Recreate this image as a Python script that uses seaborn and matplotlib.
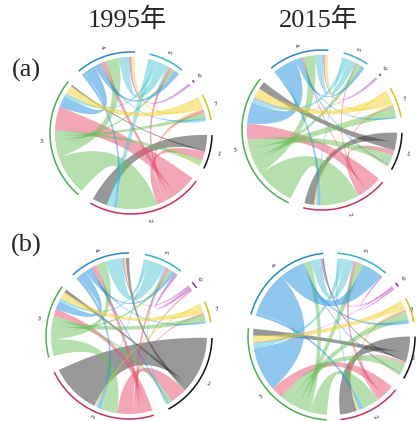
import matplotlib
matplotlib.use("Agg")
import matplotlib.pyplot as plt
import numpy as np
import seaborn as sns
from matplotlib.patches import PathPatch
from matplotlib.path import Path

# sector names, clockwise from 3 o'clock
sectors = ["1", "2", "3", "4", "5", "6", "7"]
link_colors = ["#333333", "#E8506E", "#6CC05A", "#2090E0", "#4CC6D6", "#B040C0", "#F2D22A"]
track_colors = ["#111111", "#C8305A", "#4CAF50", "#2B86C5", "#35B5C5", "#8E2C9A", "#D8C21C"]

# flow matrices, rows = from, columns = to
flows_a_1995 = [
    [0, 9, 1, 0, 0, 0, 0],
    [5, 0, 14, 3, 2, 0, 2],
    [3, 24, 0, 8, 2, 0, 3],
    [0, 2, 7, 0, 3, 0, 1],
    [0, 4, 2, 6, 0, 0, 1],
    [0, 0, 0, 1.5, 0, 0, 0],
    [1, 0, 5, 2, 0, 0, 0],
]
flows_a_2015 = [
    [0, 6, 5, 0, 0, 0, 0],
    [3, 0, 10, 1, 1, 0, 1],
    [6, 24, 0, 7, 3, 0, 6],
    [1, 2, 13, 0, 2, 0, 1],
    [0, 1, 3, 5, 0, 0, 0],
    [0, 0, 0.5, 1, 0, 0, 0],
    [1, 1, 6, 2, 0, 0, 0],
]
flows_b_1995 = [
    [0, 30, 2, 2, 0, 0, 0],
    [10, 0, 4, 3, 2, 1, 1],
    [2, 10, 0, 6, 2, 0, 4],
    [1, 2, 5, 0, 2, 0, 1],
    [1, 1, 2, 10, 0, 0, 0],
    [0, 0, 0, 1, 2, 0, 0],
    [0, 1, 4, 1, 0, 0, 0],
]
flows_b_2015 = [
    [0, 10, 4, 1, 0, 0, 0],
    [1, 0, 7, 0, 2, 0, 1],
    [6, 10, 0, 4, 4, 0, 5],
    [1, 2, 26, 0, 12, 0, 2],
    [0, 1, 3, 6, 0, 0, 0],
    [0, 0, 0.5, 1, 1, 0, 0],
    [1, 1, 4, 0, 0, 0, 0],
]

years = ["1995年", "2015年"]
panel_tags = ["(a)", "(b)"]

W, H = 416, 421
# (matrix, centre x px, centre y px, radius px, gap deg, start deg)
panels = [
    (flows_a_1995, 131, 133, 81, 10.4, -1.5),
    (flows_a_2015, 322, 130, 80, 11.0, -2.0),
    (flows_b_1995, 129, 336, 83, 10.9, -1.4),
    (flows_b_2015, 331.5, 336.5, 83.5, 9.6, 0.0),
]

R_LINK = 0.94
R_TRACK = 1.0
R_LABEL = 1.11
LIM = 1.25


def chord_layout(m, gap, start):
    m = np.asarray(m, dtype=float)
    n = len(m)
    totals = m.sum(axis=1) + m.sum(axis=0)
    avail = 360.0 - gap * n
    unit = avail / totals.sum()
    spans = totals * unit
    starts = start - np.concatenate([[0.0], np.cumsum(spans + gap)[:-1]])
    ends = {}
    for i in range(n):
        # outgoing ends first, then incoming; each ordered 2..7, 1
        items = []
        for kind in (0, 1):
            for j in sorted(range(n), key=lambda k: (k - 1) % n):
                v = m[i, j] if kind == 0 else m[j, i]
                if j != i and v > 0:
                    items.append((kind, j, v))
        pos = starts[i]
        for kind, j, v in items:
            w = v * unit
            ends[(i, j, kind)] = (pos, pos - w)
            pos -= w
    return m, starts, spans, ends


def arc_pts(a0, a1, r, k=30):
    t = np.radians(np.linspace(a0, a1, k))
    return np.c_[r * np.cos(t), r * np.sin(t)]


def ribbon(src, dst, r):
    s = arc_pts(src[0], src[1], r)
    d = arc_pts(dst[0], dst[1], r)
    verts = list(s) + [(0, 0), d[0]] + list(d[1:]) + [(0, 0), s[0], s[0]]
    codes = ([Path.MOVETO] + [Path.LINETO] * (len(s) - 1) + [Path.CURVE3, Path.CURVE3]
             + [Path.LINETO] * (len(d) - 1) + [Path.CURVE3, Path.CURVE3, Path.CLOSEPOLY])
    return Path(verts, codes)


def draw_chord(ax, flows, gap, start, cx, cy, r):
    m, starts, spans, ends = chord_layout(flows, gap, start)
    n = len(m)
    pal = sns.color_palette(link_colors)
    for i in range(n):
        for j in range(n):
            if i == j or m[i, j] <= 0:
                continue
            p = ribbon(ends[(i, j, 0)], ends[(j, i, 1)], R_LINK)
            ax.add_patch(PathPatch(p, facecolor=pal[i], edgecolor="none", alpha=0.5))
    for i in range(n):
        a0, a1 = starts[i], starts[i] - spans[i]
        pts = arc_pts(a0, a1, R_TRACK, 60)
        ax.plot(pts[:, 0], pts[:, 1], color=track_colors[i], lw=1.1, solid_capstyle="butt")
        mid = (a0 + a1) / 2
        rot = (mid + 180) % 360 - 180
        if rot > 90:
            rot -= 180
        elif rot < -90:
            rot += 180
        t = np.radians(mid)
        # keep the label inside the figure
        rl = R_LABEL
        while rl > R_TRACK and not (4 < cx + rl * r * np.cos(t) < W - 4
                                     and 4 < cy - rl * r * np.sin(t) < H - 4):
            rl -= 0.01
        ax.text(rl * np.cos(t), rl * np.sin(t), sectors[i], fontsize=4.5,
                color="#333333", rotation=rot, ha="center", va="center",
                rotation_mode="anchor", family="DejaVu Sans")


sns.set_theme(style="white")
plt.rcParams["font.family"] = ["Liberation Serif", "Noto Sans CJK JP", "DejaVu Sans"]

fig = plt.figure(figsize=(W / 100, H / 100), dpi=100)
for flows, cx, cy, r, gap, start in panels:
    half = r * LIM
    ax = fig.add_axes([(cx - half) / W, 1 - (cy + half) / H, 2 * half / W, 2 * half / H])
    ax.set_xlim(-LIM, LIM)
    ax.set_ylim(-LIM, LIM)
    ax.patch.set_alpha(0)
    ax.axis("off")
    draw_chord(ax, flows, gap, start, cx, cy, r)

for label, x in zip(years, [127, 318]):
    fig.text(x / W, 1 - 20 / H, label, fontsize=19, ha="center", va="center")
for tag, y in zip(panel_tags, [70, 245]):
    fig.text(26 / W, 1 - y / H, tag, fontsize=19, ha="center", va="center")

fig.savefig("out.png", dpi=100)
